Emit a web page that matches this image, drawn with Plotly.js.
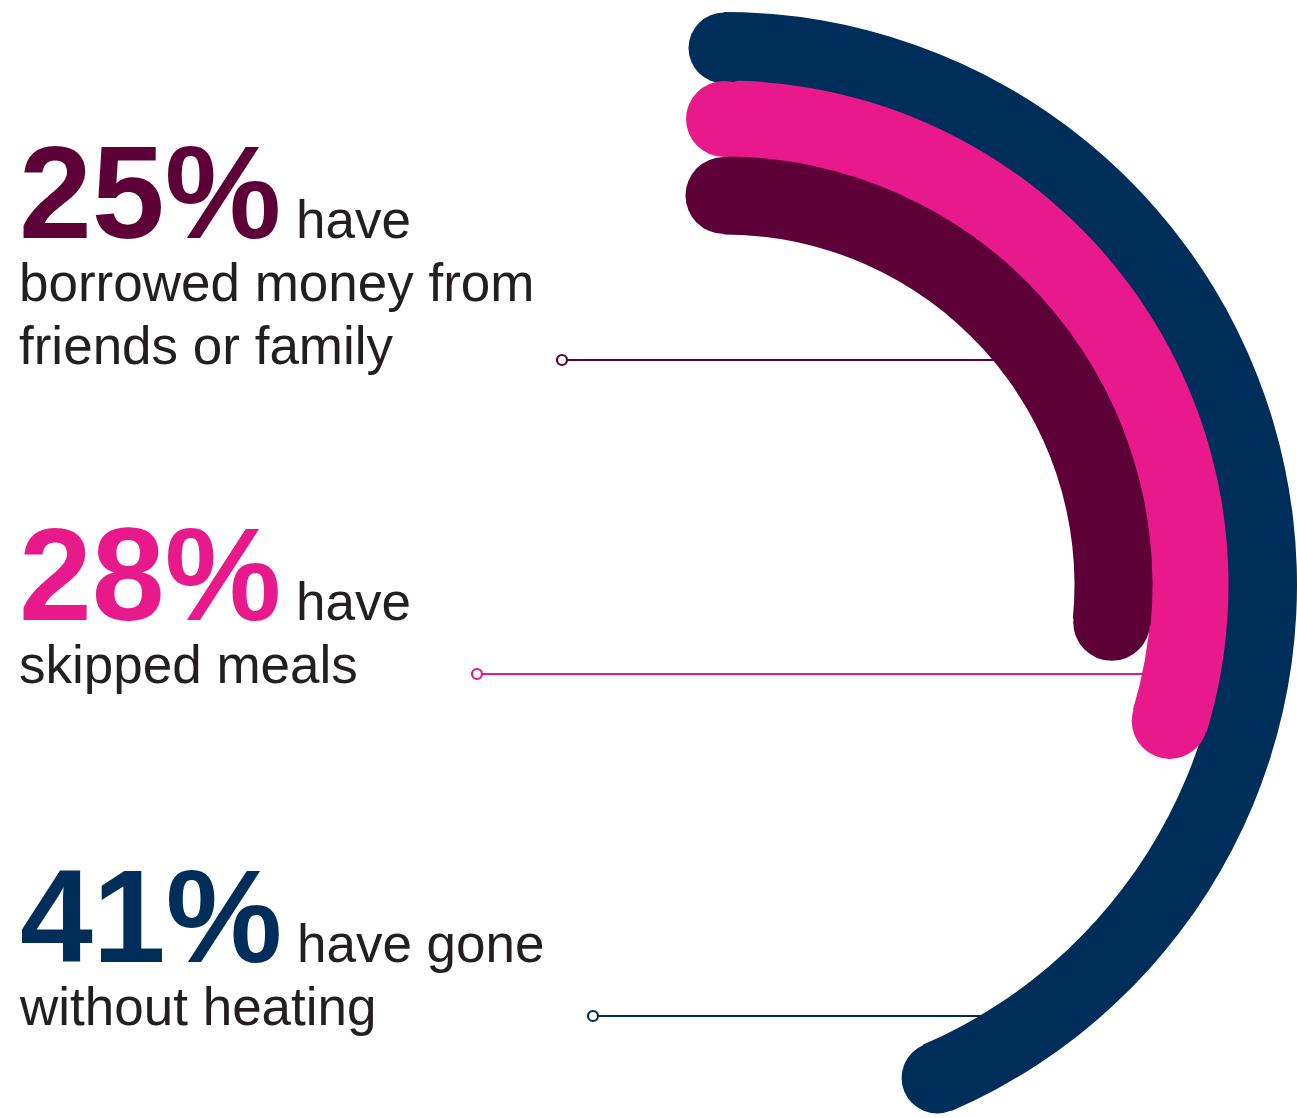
<!DOCTYPE html>
<html><head><meta charset="utf-8">
<script src="https://cdn.plot.ly/plotly-3.0.1.min.js"></script>
<style>html,body{margin:0;padding:0;overflow:hidden;background:#fff}#chart{width:1320px;height:1180px}</style>
</head><body><div id="chart"></div>
<script>
// ---- data ----
const categories = ['borrowed money from friends or family', 'skipped meals', 'gone without heating'];
const values = [25, 28, 41];
const captionFirst = ['have', 'have', 'have gone'];
const captionRest = [['borrowed money from', 'friends or family'], ['skipped meals'], ['without heating']];

// ---- style / layout ----
const W = 1320, H = 1180;
const colors = ['#5C0037', '#E8198B', '#002E5A'];
const textColor = '#231F20';
const FONT = 'Liberation Sans, Arial, Helvetica, sans-serif';
const ringCenter = [389.5, 466, 537];
const ringWidth = [78, 77, 72];
const DEG_PER_PCT = 3.82;
const CX = 724, CY = 585, RMAX = 585;
const bigSize = 131, smallSize = 53;
const lineBase = 48.5;            // base size: line pitch = 1.3 * 48.5 ≈ 63 px
const bigBaseline = [238, 620, 962];
const leftX = 17;
const leaderY = [360, 674, 1016];
const leaderX0 = [562, 477, 593];

const px = x => x / W;
const py = y => 1 - y / H;

const traces = [];
const shapes = [];
const annotations = [];
[2, 1, 0].forEach(i => {
  const end = values[i] * DEG_PER_PCT;
  traces.push({
    type: 'barpolar', name: categories[i],
    r: [ringWidth[i]], base: [ringCenter[i] - ringWidth[i] / 2],
    theta: [end / 2], width: [end],
    marker: {color: colors[i], line: {width: 0}},
    hoverinfo: 'skip', showlegend: false
  });
  traces.push({
    type: 'scatterpolar', mode: 'markers', name: categories[i],
    r: [ringCenter[i], ringCenter[i]], theta: [0, end],
    marker: {size: ringWidth[i] - 1, color: colors[i], line: {width: 0}},
    cliponaxis: false, hoverinfo: 'skip', showlegend: false
  });
});

const small = t => `<span style="font-size:${smallSize}px">${t}</span>`;

values.forEach((v, i) => {
  const dy = leaderY[i] - CY;
  const xEnd = CX + Math.sqrt(ringCenter[i] * ringCenter[i] - dy * dy);
  shapes.push({type: 'line', xref: 'paper', yref: 'paper', layer: 'below',
    x0: px(leaderX0[i]), x1: px(xEnd), y0: py(leaderY[i]), y1: py(leaderY[i]),
    line: {color: colors[i], width: 2.2}});
  shapes.push({type: 'circle', xref: 'paper', yref: 'paper', layer: 'above',
    xsizemode: 'pixel', ysizemode: 'pixel', xanchor: px(leaderX0[i]), yanchor: py(leaderY[i]),
    x0: -5, x1: 5, y0: -5, y1: 5, fillcolor: '#ffffff',
    line: {color: colors[i], width: 2.2}});

  const firstLine = `<span style="font-size:${bigSize}px;font-weight:bold;fill:${colors[i]}">${v}%</span>` +
    small(' ' + captionFirst[i]);
  const text = [firstLine].concat(captionRest[i].map(small)).join('<br>');
  annotations.push({text: text, xref: 'paper', yref: 'paper',
    x: px(leftX), y: py(bigBaseline[i] - 2 - 0.905 * bigSize),
    xanchor: 'left', yanchor: 'top', align: 'left', showarrow: false,
    font: {family: FONT, size: lineBase, color: textColor}});
});

const layout = {
  width: W, height: H,
  margin: {l: 0, r: 0, t: 0, b: 0},
  paper_bgcolor: '#ffffff',
  showlegend: false,
  polar: {
    domain: {x: [px(CX - RMAX), px(CX + RMAX)], y: [py(CY + RMAX), py(CY - RMAX)]},
    bgcolor: 'rgba(0,0,0,0)',
    barmode: 'overlay',
    radialaxis: {visible: false, range: [0, RMAX]},
    angularaxis: {visible: false, rotation: 90, direction: 'clockwise', thetaunit: 'degrees'}
  },
  shapes: shapes,
  annotations: annotations
};

Plotly.newPlot('chart', traces, layout, {displayModeBar: false, staticPlot: true});
</script>
</body></html>
